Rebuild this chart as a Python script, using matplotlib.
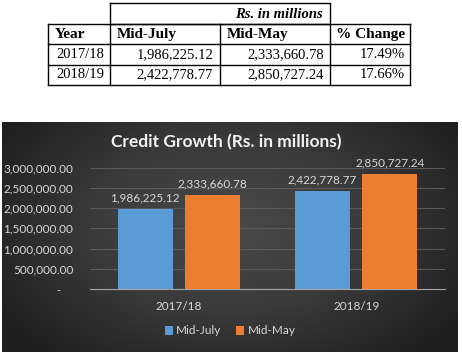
import numpy as np
import matplotlib.pyplot as plt
from matplotlib.colors import LinearSegmentedColormap
from matplotlib.ticker import FuncFormatter

years = ['2017/18', '2018/19']
mid_july = [1986225.12, 2422778.77]
mid_may = [2333660.78, 2850727.24]
pct_change = ['17.49%', '17.66%']
series_names = ['Mid-July', 'Mid-May']
bar_colors = ['#5b9bd5', '#ed7d31']

W, H = 462, 352
fig = plt.figure(figsize=(W / 100, H / 100), dpi=100)
fig.patch.set_facecolor('white')
plt.rcParams['font.family'] = ['Lato', 'DejaVu Sans']

# full-figure overlay in pixel coordinates (table + dark panel)
bg = fig.add_axes([0, 0, 1, 1])
bg.axis('off')

# dark panel with radial gradient
yy, xx = np.mgrid[0:1:200j, 0:1:300j]
r = np.sqrt(((xx - 0.5) / 0.6) ** 2 + ((yy - 0.45) / 0.75) ** 2)
cmap = LinearSegmentedColormap.from_list('panel', ['#4a4a4a', '#3a3a3a', '#1f1f1f'])
bg.imshow(r, cmap=cmap, extent=(2, 458, H, 122), aspect='auto', vmin=0, vmax=1.0,
          interpolation='bilinear', zorder=0)
bg.set_xlim(0, W)
bg.set_ylim(H, 0)

# table
serif = 'Liberation Serif'
fs = 10.5
lw = 1.0
col_x = [48, 110, 220, 330, 410]
row_y = [24, 44, 65, 85]
# top merged cell
bg.plot([110, 330, 330, 110, 110], [3, 3, 24, 24, 3], color='black', lw=lw)
for y in row_y:
    bg.plot([col_x[0], col_x[-1]], [y, y], color='black', lw=lw)
for x in col_x:
    bg.plot([x, x], [row_y[0], row_y[-1]], color='black', lw=lw)

bg.text(323, 14, 'Rs. in millions', family=serif, fontsize=fs, weight='bold',
        style='italic', ha='right', va='center')
headers = ['Year', 'Mid-July', 'Mid-May']
for h, x in zip(headers, [55, 117, 227]):
    bg.text(x, 34.5, h, family=serif, fontsize=fs + 0.5, weight='bold', ha='left', va='center')
bg.text(405, 34.5, '% Change', family=serif, fontsize=fs + 0.5, weight='bold', ha='right', va='center')
for i, yr in enumerate(years):
    yc = (row_y[i + 1] + row_y[i + 2]) / 2
    bg.text(56, yc, yr, family=serif, fontsize=fs, ha='left', va='center')
    bg.text(213, yc, f'{mid_july[i]:,.2f}', family=serif, fontsize=fs, ha='right', va='center')
    bg.text(324, yc, f'{mid_may[i]:,.2f}', family=serif, fontsize=fs, ha='right', va='center')
    bg.text(405, yc, pct_change[i], family=serif, fontsize=fs, ha='right', va='center')

# chart
txt = '#d9d9d9'
cfs = 8.5
ax = fig.add_axes([90 / W, 1 - 289 / H, 355 / W, 121.3 / H])
ax.set_facecolor('none')
x = np.arange(len(years))
w = 0.31
off = 0.19
b1 = ax.bar(x - off, mid_july, w, color=bar_colors[0], label=series_names[0], zorder=3)
b2 = ax.bar(x + off, mid_may, w, color=bar_colors[1], label=series_names[1], zorder=3)
for bars in (b1, b2):
    ax.bar_label(bars, labels=[f'{v:,.2f}' for v in bars.datavalues], padding=4,
                 color=txt, fontsize=cfs)
ax.set_xlim(-0.5, 1.5)
ax.set_ylim(0, 3000000)
ax.set_yticks(np.arange(0, 3000001, 500000))
ax.yaxis.set_major_formatter(FuncFormatter(lambda v, p: f'{v:,.2f}' if v else '-    '))
ax.set_xticks(x)
ax.set_xticklabels(years)
ax.tick_params(colors=txt, labelsize=cfs, length=0)
ax.tick_params(axis='y', pad=12)
ax.tick_params(axis='x', pad=9)
ax.grid(axis='y', color='#5a5a5a', lw=0.8, zorder=0)
for s in ['top', 'right', 'left']:
    ax.spines[s].set_visible(False)
ax.spines['bottom'].set_color('#a6a6a6')
ax.spines['bottom'].set_zorder(4)

fig.text(226 / W, 1 - 142 / H, 'Credit Growth (Rs. in millions)', color='#f2f2f2',
         fontsize=12.5, weight='bold', ha='center', va='center')
fig.legend(handles=[b1, b2], loc='center', bbox_to_anchor=(230 / W, 1 - 331 / H),
           ncol=2, frameon=False, fontsize=cfs, labelcolor=txt, handlelength=0.7,
           handleheight=0.7, handletextpad=0.3, columnspacing=1.2)

fig.savefig('out.png', dpi=100, facecolor=fig.get_facecolor())
